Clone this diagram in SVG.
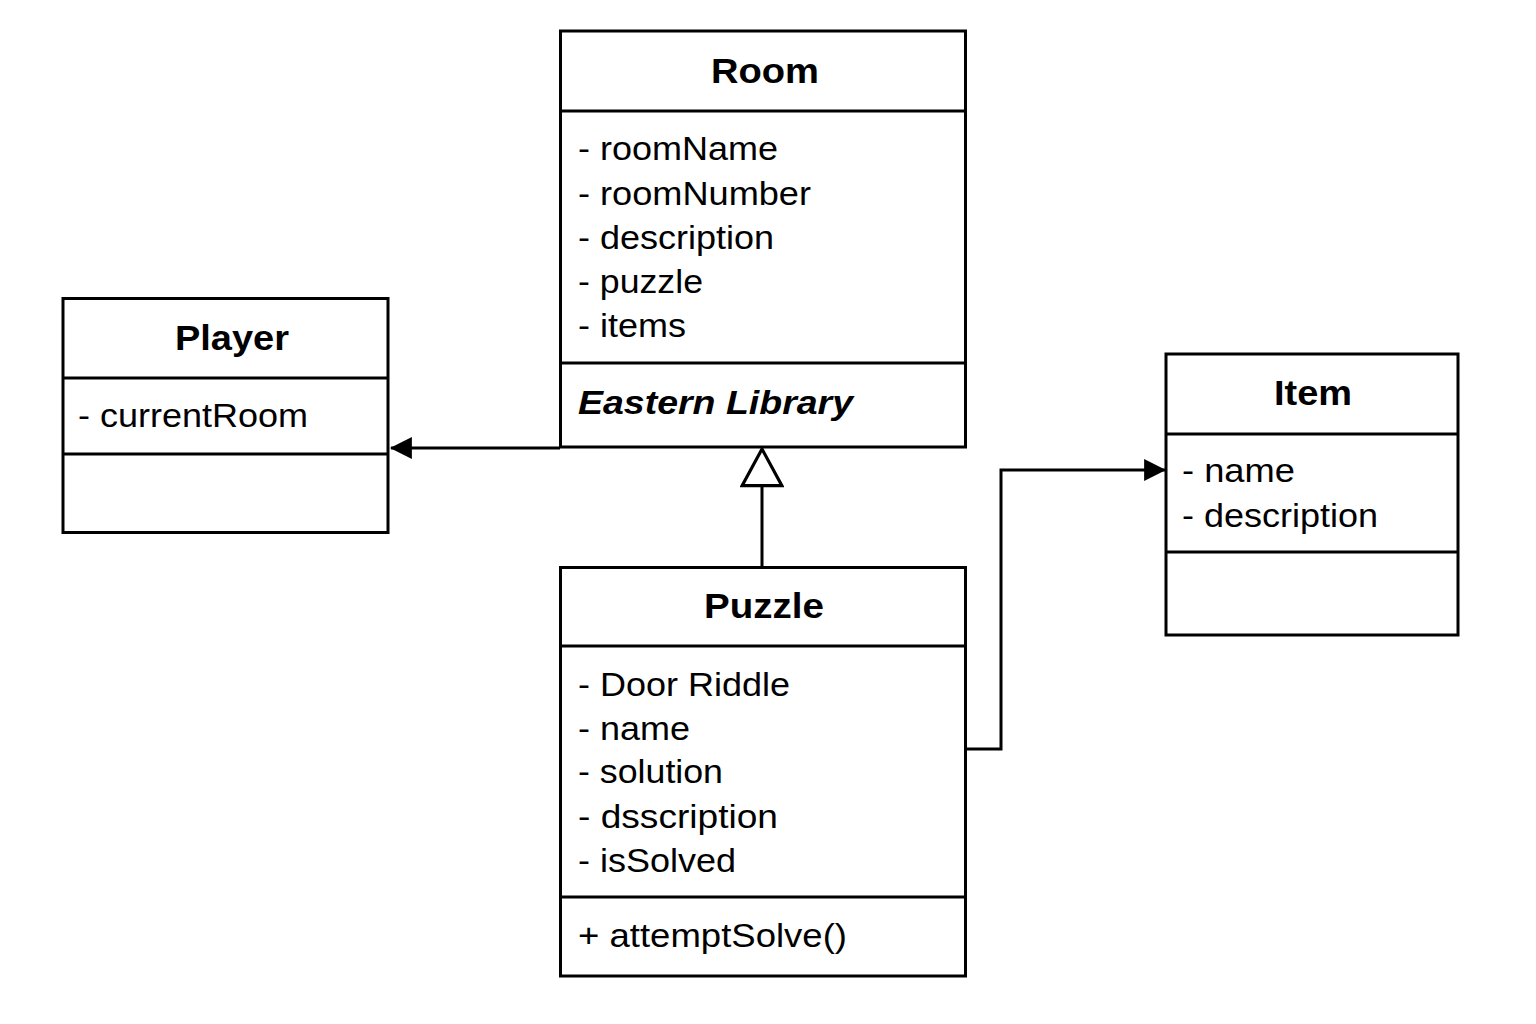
<svg xmlns="http://www.w3.org/2000/svg" width="1536" height="1024" viewBox="0 0 1536 1024">
<style>
.box{fill:#fff;stroke:#000;stroke-width:3}
.sep{stroke:#000;stroke-width:3}
.t{font-family:"Liberation Sans",Arial,Helvetica,sans-serif;font-size:33px;fill:#000}
.h{font-family:"Liberation Sans",Arial,Helvetica,sans-serif;font-size:35px;font-weight:bold;fill:#000;text-anchor:middle}
.bi{font-family:"Liberation Sans",Arial,Helvetica,sans-serif;font-size:33px;font-weight:bold;font-style:italic;fill:#000}
.conn{fill:none;stroke:#000;stroke-width:3}
</style>
<defs>
<marker id="arrow" markerUnits="userSpaceOnUse" markerWidth="22" markerHeight="22" viewBox="0 0 20 20" refX="19" refY="10" orient="auto">
<path d="M0,0 L20,10 L0,20 Z" fill="#000"/>
</marker>
<marker id="tri" markerUnits="userSpaceOnUse" markerWidth="44" markerHeight="44" viewBox="-2 -2 42 42" refX="36" refY="19" orient="auto">
<path d="M36,19 L1,0 L1,38 Z" fill="#fff" stroke="#000" stroke-width="3" stroke-linejoin="miter"/>
</marker>
</defs>
<rect width="1536" height="1024" fill="#fff"/>
<g id="connectors">
<path class="conn" d="M560,448 L391,448" marker-end="url(#arrow)"/>
<path class="conn" d="M762,567 L762,449" marker-end="url(#tri)"/>
<path class="conn" d="M965,749 L1001,749 L1001,470 L1165,470" marker-end="url(#arrow)"/>
</g>
<g id="room">
<rect class="box" x="560.5" y="31" width="405" height="416"/>
<line class="sep" x1="560" y1="111" x2="965" y2="111"/>
<line class="sep" x1="560" y1="363" x2="965" y2="363"/>
<text class="h" x="765" y="83" textLength="108" lengthAdjust="spacingAndGlyphs">Room</text>
<text class="t" x="578" y="160" textLength="200" lengthAdjust="spacingAndGlyphs">- roomName</text>
<text class="t" x="578" y="204.5" textLength="233" lengthAdjust="spacingAndGlyphs">- roomNumber</text>
<text class="t" x="578" y="249" textLength="196" lengthAdjust="spacingAndGlyphs">- description</text>
<text class="t" x="578" y="293" textLength="125" lengthAdjust="spacingAndGlyphs">- puzzle</text>
<text class="t" x="578" y="337" textLength="108" lengthAdjust="spacingAndGlyphs">- items</text>
<text class="bi" x="578" y="414" textLength="275" lengthAdjust="spacingAndGlyphs">Eastern Library</text>
</g>
<g id="player">
<rect class="box" x="63" y="298.5" width="325" height="234"/>
<line class="sep" x1="63" y1="378" x2="388" y2="378"/>
<line class="sep" x1="63" y1="454" x2="388" y2="454"/>
<text class="h" x="232" y="350" textLength="114" lengthAdjust="spacingAndGlyphs">Player</text>
<text class="t" x="78" y="427" textLength="230" lengthAdjust="spacingAndGlyphs">- currentRoom</text>
</g>
<g id="item">
<rect class="box" x="1166" y="354" width="292" height="281"/>
<line class="sep" x1="1166" y1="434" x2="1458" y2="434"/>
<line class="sep" x1="1166" y1="552" x2="1458" y2="552"/>
<text class="h" x="1313" y="405" textLength="78" lengthAdjust="spacingAndGlyphs">Item</text>
<text class="t" x="1182" y="482" textLength="113" lengthAdjust="spacingAndGlyphs">- name</text>
<text class="t" x="1182" y="527" textLength="196" lengthAdjust="spacingAndGlyphs">- description</text>
</g>
<g id="puzzle">
<rect class="box" x="560.5" y="567.5" width="405" height="408.5"/>
<line class="sep" x1="560" y1="646" x2="965" y2="646"/>
<line class="sep" x1="560" y1="897" x2="965" y2="897"/>
<text class="h" x="764" y="618" textLength="120" lengthAdjust="spacingAndGlyphs">Puzzle</text>
<text class="t" x="578" y="696" textLength="212" lengthAdjust="spacingAndGlyphs">- Door Riddle</text>
<text class="t" x="578" y="740" textLength="112" lengthAdjust="spacingAndGlyphs">- name</text>
<text class="t" x="578" y="783" textLength="145" lengthAdjust="spacingAndGlyphs">- solution</text>
<text class="t" x="578" y="828" textLength="200" lengthAdjust="spacingAndGlyphs">- dsscription</text>
<text class="t" x="578" y="872" textLength="158" lengthAdjust="spacingAndGlyphs">- isSolved</text>
<text class="t" x="578" y="947" textLength="269" lengthAdjust="spacingAndGlyphs">+ attemptSolve()</text>
</g>
</svg>
